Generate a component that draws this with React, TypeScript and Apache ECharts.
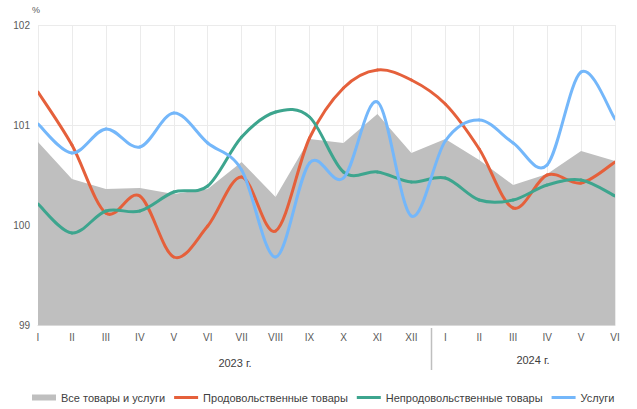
import React, { useEffect, useRef } from "react";
import * as echarts from "echarts";

const months = ["I", "II", "III", "IV", "V", "VI", "VII", "VIII", "IX", "X", "XI", "XII", "I", "II", "III", "IV", "V", "VI"];
const allGoods = [100.83, 100.46, 100.36, 100.37, 100.31, 100.36, 100.63, 100.28, 100.86, 100.82, 101.11, 100.72, 100.86, 100.65, 100.4, 100.51, 100.74, 100.64];
const food = [101.33, 100.8, 100.12, 100.29, 99.68, 99.99, 100.48, 99.94, 100.87, 101.37, 101.55, 101.45, 101.21, 100.76, 100.17, 100.5, 100.42, 100.63];
const nonFood = [100.21, 99.92, 100.14, 100.14, 100.33, 100.39, 100.88, 101.13, 101.08, 100.53, 100.53, 100.43, 100.47, 100.25, 100.25, 100.4, 100.45, 100.29];
const services = [101.01, 100.72, 100.96, 100.78, 101.12, 100.82, 100.55, 99.68, 100.62, 100.47, 101.23, 100.09, 100.84, 101.05, 100.82, 100.6, 101.53, 101.06];
const seriesNames = ["Все товары и услуги", "Продовольственные товары", "Непродовольственные товары", "Услуги"];
const yearLabels = ["2023 г.", "2024 г."];

const FONT = "'Liberation Sans', Arial, sans-serif";
const LINE_ICON = "path://M0,0 L24,0 L24,3 L0,3 Z";

export default function App() {
  const ref = useRef<HTMLDivElement>(null);
  useEffect(() => {
    if (!ref.current) return;
    const chart = echarts.init(ref.current, null, { renderer: "svg" });
    // smooth line drawn as Catmull-Rom bezier segments through the axis scales
    const smoothSeries = (name: string, values: number[], color: string) => ({
      name,
      type: "custom",
      data: values.map((v, i) => [i, v]),
      encode: { x: 0, y: 1 },
      itemStyle: { color },
      z: 3,
      clip: true,
      renderItem: (params: any, api: any) => {
        const i = params.dataIndex;
        const n = values.length;
        if (i >= n - 1) return null;
        const pt = (k: number) => {
          const kk = Math.max(0, Math.min(n - 1, k));
          return api.coord([kk, values[kk]]);
        };
        const p0 = pt(i - 1);
        const p1 = pt(i);
        const p2 = pt(i + 1);
        const p3 = pt(i + 2);
        return {
          type: "bezierCurve",
          shape: {
            x1: p1[0],
            y1: p1[1],
            x2: p2[0],
            y2: p2[1],
            cpx1: p1[0] + (p2[0] - p0[0]) / 6,
            cpy1: p1[1] + (p2[1] - p0[1]) / 6,
            cpx2: p2[0] - (p3[0] - p1[0]) / 6,
            cpy2: p2[1] - (p3[1] - p1[1]) / 6,
          },
          style: { stroke: color, lineWidth: 3, fill: "none", lineCap: "round" },
        };
      },
    });
    chart.setOption({
      animation: false,
      textStyle: { fontFamily: FONT },
      grid: { left: 38, right: 22, top: 25, bottom: 84, containLabel: false },
      xAxis: {
        type: "category",
        data: months,
        boundaryGap: false,
        axisTick: { show: false },
        axisLine: { show: true, lineStyle: { color: "#d9d9d9" } },
        axisLabel: { color: "#595959", fontSize: 10, margin: 7, fontFamily: FONT },
        splitLine: { show: true, lineStyle: { color: "#ebebeb", width: 1 } },
      },
      yAxis: {
        type: "value",
        min: 99,
        max: 102,
        interval: 1,
        name: "%",
        nameGap: 11,
        nameTextStyle: { color: "#595959", fontSize: 9, fontFamily: FONT, align: "right", padding: [0, -2, 0, 0] },
        axisLine: { show: false },
        axisTick: { show: false },
        axisLabel: { color: "#595959", fontSize: 10, margin: 8, fontFamily: FONT },
        splitLine: { show: true, lineStyle: { color: "#ebebeb", width: 1 } },
      },
      legend: {
        top: 387,
        left: 27,
        itemWidth: 24,
        itemHeight: 6,
        itemGap: 9,
        symbolKeepAspect: true,
        textStyle: { color: "#404040", fontSize: 11, fontFamily: FONT },
        data: [
          { name: seriesNames[0], icon: "rect" },
          { name: seriesNames[1], icon: LINE_ICON },
          { name: seriesNames[2], icon: LINE_ICON },
          { name: seriesNames[3], icon: LINE_ICON },
        ],
      },
      graphic: [
        { type: "line", shape: { x1: 431.5, y1: 328, x2: 431.5, y2: 370 }, style: { stroke: "#bfbfbf", lineWidth: 1.5 } },
        { type: "text", x: 235, y: 363, style: { text: yearLabels[0], fill: "#404040", font: `11px ${FONT}`, align: "center", verticalAlign: "middle" } },
        { type: "text", x: 533, y: 360, style: { text: yearLabels[1], fill: "#404040", font: `11px ${FONT}`, align: "center", verticalAlign: "middle" } },
      ],
      series: [
        {
          name: seriesNames[0],
          type: "line",
          data: allGoods,
          symbol: "none",
          lineStyle: { width: 0, color: "#bfbfbf" },
          itemStyle: { color: "#bfbfbf" },
          areaStyle: { color: "#bfbfbf", opacity: 1, origin: "start" },
          z: 2,
        },
        smoothSeries(seriesNames[1], food, "#e5603b"),
        smoothSeries(seriesNames[2], nonFood, "#3da58e"),
        smoothSeries(seriesNames[3], services, "#74b7fa"),
      ],
    });
    return () => chart.dispose();
  }, []);
  return <div ref={ref} style={{ width: 637, height: 409, position: "absolute", left: 0, top: 0 }} />;
}
